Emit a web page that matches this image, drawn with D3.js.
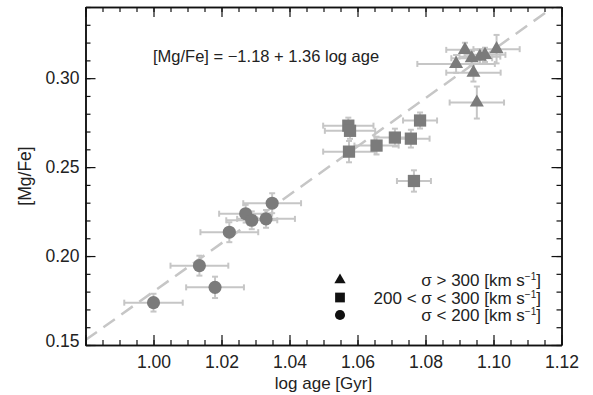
<!DOCTYPE html>
<html>
<head>
<meta charset="utf-8">
<script src="https://cdn.jsdelivr.net/npm/d3@7"></script>
<style>
  body { margin: 0; background: #fff; }
  text { font-family: "Liberation Sans", Arial, Helvetica, sans-serif; fill: #222; }
</style>
</head>
<body>
<svg id="chart"></svg>
<script>
// data: sigma > 300 (triangles)
const triAge    = [1.0916, 1.0890, 1.0936, 1.0960, 1.0975, 1.1009, 1.0941, 1.0951];
const triMg     = [0.3159, 0.3080, 0.3112, 0.3121, 0.3131, 0.3163, 0.3031, 0.2863];
const triAgeErr = [0.0055, 0.0114, 0.0060, 0.0060, 0.0060, 0.0068, 0.0080, 0.0080];
const triMgErr  = [0.0040, 0.0050, 0.0040, 0.0040, 0.0040, 0.0080, 0.0050, 0.0090];
// 200 < sigma < 300 (squares)
const sqAge     = [1.0573, 1.0578, 1.0575, 1.0656, 1.0710, 1.0757, 1.0784, 1.0766];
const sqMg      = [0.2733, 0.2704, 0.2587, 0.2621, 0.2666, 0.2660, 0.2762, 0.2422];
const sqAgeErr  = [0.0074, 0.0074, 0.0076, 0.0065, 0.0060, 0.0055, 0.0050, 0.0050];
const sqMgErr   = [0.0045, 0.0045, 0.0060, 0.0050, 0.0050, 0.0050, 0.0045, 0.0060];
// sigma < 200 (circles)
const ciAge     = [1.0000, 1.0135, 1.0181, 1.0223, 1.0271, 1.0289, 1.0331, 1.0349];
const ciMg      = [0.1738, 0.1946, 0.1824, 0.2134, 0.2238, 0.2201, 0.2209, 0.2297];
const ciAgeErr  = [0.0086, 0.0085, 0.0085, 0.0085, 0.0078, 0.0075, 0.0085, 0.0085];
const ciMgErr   = [0.0050, 0.0056, 0.0060, 0.0056, 0.0050, 0.0050, 0.0050, 0.0056];
// fit: [Mg/Fe] = a + b log age
const fitA = -1.18, fitB = 1.36;

const xTicks = [0.98, 1.00, 1.02, 1.04, 1.06, 1.08, 1.10, 1.12];
const yTicks = [0.15, 0.20, 0.25, 0.30];
const legendLabels = ["σ > 300 [km s", "200 < σ < 300 [km s", "σ < 200 [km s"];

//setting
const Width = 593, Height = 395;
const m = {left: 85.5, right: 31.5, top: 7, bottom: 50};
const svg = d3.select("#chart").attr("width", Width).attr("height", Height);

const x = d3.scaleLinear().domain([0.98, 1.12]).range([m.left, Width - m.right]);
const y = d3.scaleLinear().domain([0.15, 0.34]).range([Height - m.bottom, m.top]);

const errColor = "#c6c6c6";
const markColor = "#7b7b7b";

// clip
svg.append("clipPath").attr("id", "clip").append("rect")
  .attr("x", x(0.98)).attr("y", y(0.34))
  .attr("width", x(1.12) - x(0.98)).attr("height", y(0.15) - y(0.34));

// fit line
svg.append("line")
  .attr("clip-path", "url(#clip)")
  .attr("x1", x(0.98)).attr("y1", y(fitA + fitB * 0.98))
  .attr("x2", x(1.12)).attr("y2", y(fitA + fitB * 1.12))
  .attr("stroke", errColor).attr("stroke-width", 2.5)
  .attr("stroke-dasharray", "14,8");

// minor/major ticks
const minorX = d3.range(0, 29).map(i => 0.98 + i * 0.005);
const minorY = d3.range(0, 20).map(i => 0.15 + i * 0.01);

function drawAxis(axis, tr, labels) {
  const g = svg.append("g").attr("transform", tr).call(axis);
  g.select(".domain").attr("stroke", "#111").attr("stroke-width", 1.5);
  g.selectAll(".tick line").attr("stroke", "#111").attr("stroke-width", 1.2);
  g.selectAll(".tick text").style("font-size", "17.5px").attr("fill", "#222");
  if (!labels) g.selectAll(".tick text").remove();
  return g;
}
// minor first
drawAxis(d3.axisBottom(x).tickValues(minorX).tickSize(-5).tickSizeOuter(0).tickFormat(""), `translate(0,${y(0.15)})`, false);
drawAxis(d3.axisTop(x).tickValues(minorX).tickSize(-5).tickSizeOuter(0).tickFormat(""), `translate(0,${y(0.34)})`, false);
drawAxis(d3.axisLeft(y).tickValues(minorY).tickSize(-5).tickSizeOuter(0).tickFormat(""), `translate(${x(0.98)},0)`, false);
drawAxis(d3.axisRight(y).tickValues(minorY).tickSize(-5).tickSizeOuter(0).tickFormat(""), `translate(${x(1.12)},0)`, false);
// major
const bx = drawAxis(d3.axisBottom(x).tickValues(xTicks).tickSize(-10).tickSizeOuter(0).tickPadding(11).tickFormat(d3.format(".2f")), `translate(0,${y(0.15)})`, true);
bx.selectAll(".tick").filter(d => d < 0.99).select("text").remove();
drawAxis(d3.axisTop(x).tickValues(xTicks).tickSize(-10).tickSizeOuter(0).tickFormat(""), `translate(0,${y(0.34)})`, false);
const ly = drawAxis(d3.axisLeft(y).tickValues(yTicks).tickSize(-10).tickSizeOuter(0).tickPadding(6).tickFormat(d3.format(".2f")), `translate(${x(0.98)},0)`, true);
ly.selectAll(".tick").filter(d => d < 0.16).select("text").attr("dy", "0.1em");
drawAxis(d3.axisRight(y).tickValues(yTicks).tickSize(-10).tickSizeOuter(0).tickFormat(""), `translate(${x(1.12)},0)`, false);

// axis titles
svg.append("text").attr("x", (x(0.98) + x(1.12)) / 2).attr("y", 389)
  .attr("text-anchor", "middle").style("font-size", "17px").text("log age [Gyr]");
svg.append("text").attr("transform", `translate(31,${(y(0.15) + y(0.34)) / 2}) rotate(-90)`)
  .attr("text-anchor", "middle").style("font-size", "17.5px").text("[Mg/Fe]");

// equation
svg.append("text").attr("x", 153).attr("y", 62).style("font-size", "16.5px")
  .text("[Mg/Fe] = \u22121.18 + 1.36 log age");

// error bars
function drawGroup(ages, mgs, ageErr, mgErr) {
  const data = ages.map((a, i) => ({a: a, m: mgs[i], ea: ageErr[i], em: mgErr[i]}));
  const g = svg.append("g");
  const cap = 3;
  const eb = g.selectAll("g.err").data(data).join("g").attr("class", "err")
    .attr("stroke", errColor).attr("stroke-width", 2);
  eb.append("line").attr("x1", d => x(d.a - d.ea)).attr("x2", d => x(d.a + d.ea))
    .attr("y1", d => y(d.m)).attr("y2", d => y(d.m));
  eb.append("line").attr("x1", d => x(d.a)).attr("x2", d => x(d.a))
    .attr("y1", d => y(d.m - d.em)).attr("y2", d => y(d.m + d.em));
  eb.append("line").attr("x1", d => x(d.a - d.ea)).attr("x2", d => x(d.a - d.ea))
    .attr("y1", d => y(d.m) - cap).attr("y2", d => y(d.m) + cap);
  eb.append("line").attr("x1", d => x(d.a + d.ea)).attr("x2", d => x(d.a + d.ea))
    .attr("y1", d => y(d.m) - cap).attr("y2", d => y(d.m) + cap);
  eb.append("line").attr("y1", d => y(d.m - d.em)).attr("y2", d => y(d.m - d.em))
    .attr("x1", d => x(d.a) - cap).attr("x2", d => x(d.a) + cap);
  eb.append("line").attr("y1", d => y(d.m + d.em)).attr("y2", d => y(d.m + d.em))
    .attr("x1", d => x(d.a) - cap).attr("x2", d => x(d.a) + cap);
  return data;
}
const triData = drawGroup(triAge, triMg, triAgeErr, triMgErr);
const sqData = drawGroup(sqAge, sqMg, sqAgeErr, sqMgErr);
const ciData = drawGroup(ciAge, ciMg, ciAgeErr, ciMgErr);

function drawMarks(data, symbol, size) {
  svg.append("g").selectAll("path").data(data).join("path")
    .attr("transform", d => `translate(${x(d.a)},${y(d.m)})`)
    .attr("d", d3.symbol().type(symbol).size(size))
    .attr("fill", markColor);
}
drawMarks(triData, d3.symbolTriangle, 85);
drawMarks(sqData, d3.symbolSquare, 150);
drawMarks(ciData, d3.symbolCircle, 135);

// legend
const legSym = [d3.symbolTriangle, d3.symbolSquare, d3.symbolCircle];
const legSize = [55, 95, 80];
const leg = svg.append("g");
legendLabels.forEach((t, i) => {
  const yy = 280 + i * 17.5;
  leg.append("path").attr("transform", `translate(340,${yy})`)
    .attr("d", d3.symbol().type(legSym[i]).size(legSize[i])).attr("fill", "#111");
  const tx = leg.append("text").attr("x", 541).attr("y", yy + 6)
    .attr("text-anchor", "end").style("font-size", "17px");
  tx.append("tspan").text(t);
  tx.append("tspan").attr("dy", -6).style("font-size", "10px").text("\u22121");
  tx.append("tspan").attr("dy", 6).text("]");
});
</script>
</body>
</html>
